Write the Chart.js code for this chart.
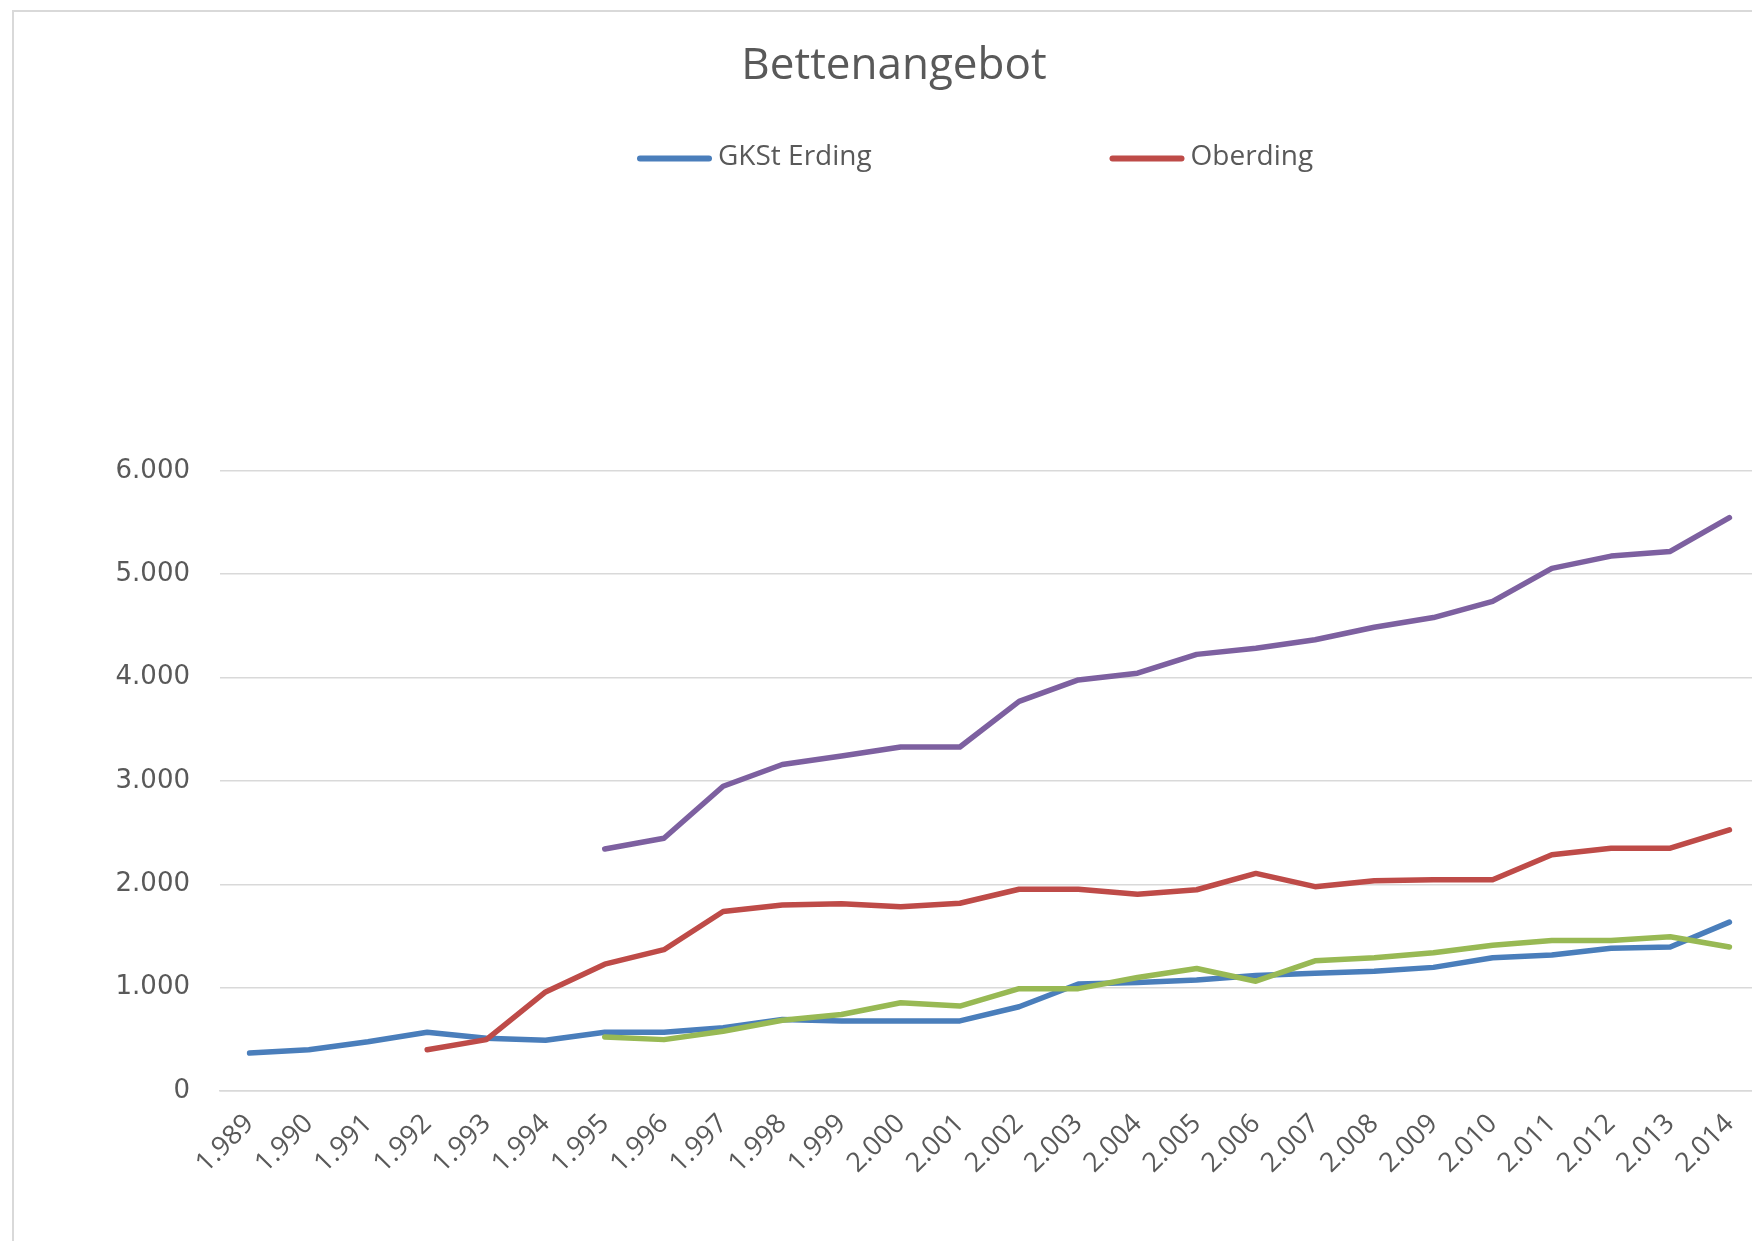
<!DOCTYPE html>
<html>
<head>
<meta charset="utf-8">
<script src="https://cdn.jsdelivr.net/npm/chart.js@4.4.1/dist/chart.umd.min.js"></script>
<style>
  html, body { margin: 0; padding: 0; background: #ffffff; overflow: hidden; width: 1752px; height: 1241px; }
  #frame { position: absolute; left: 12px; top: 10px; width: 1800px; height: 1300px;
           border-left: 2px solid #d9d9d9; border-top: 2px solid #d9d9d9; background: #ffffff; }
  #c { position: absolute; left: 0; top: 0; }
</style>
</head>
<body>
<div id="frame"><canvas id="c" width="1745" height="1229"></canvas></div>
<script>
// ---- data ----
const xLabels = ['1.989','1.990','1.991','1.992','1.993','1.994','1.995','1.996','1.997','1.998','1.999','2.000','2.001',
                 '2.002','2.003','2.004','2.005','2.006','2.007','2.008','2.009','2.010','2.011','2.012','2.013','2.014'];
const gkstErding = [367, 399, 477, 569, 510, 491, 569, 569, 611, 692, 678, 678, 678,
                    815, 1035, 1049, 1073, 1118, 1140, 1159, 1196, 1289, 1315, 1382, 1393, 1634];
const oberding   = [null, null, null, 399, 497, 958, 1227, 1367, 1737, 1799, 1812, 1783, 1816,
                    1952, 1952, 1904, 1947, 2105, 1977, 2033, 2044, 2044, 2286, 2349, 2349, 2527];
const series3    = [null, null, null, null, null, null, 523, 497, 578, 685, 740, 854, 822,
                    990, 990, 1098, 1185, 1062, 1259, 1289, 1337, 1411, 1456, 1456, 1493, 1393];
const series4    = [null, null, null, null, null, null, 2341, 2445, 2948, 3159, 3240, 3328, 3328,
                    3770, 3977, 4042, 4224, 4283, 4365, 4487, 4580, 4736, 5056, 5175, 5220, 5547];
const yTickValues = [0, 1000, 2000, 3000, 4000, 5000, 6000];
const yTickLabels = ['0', '1.000', '2.000', '3.000', '4.000', '5.000', '6.000'];
const seriesNames = ['GKSt Erding', 'Oberding', 'Datenreihe 3', 'Datenreihe 4'];
const legendShown = [0, 1];
const chartTitle = 'Bettenangebot';

// ---- styles ----
const colors = ['#4a7ebb', '#be4b48', '#98b954', '#7d60a0'];
const textColor = '#595959';
const gridColor = '#d9d9d9';

// Excel-like legend (only first row visible, fixed column width)
const excelLegend = {
  id: 'excelLegend',
  afterDraw(chart, args, opts) {
    const ctx = chart.ctx;
    ctx.save();
    opts.items.forEach((idx, k) => {
      const ds = chart.data.datasets[idx];
      const x0 = opts.x + k * opts.colWidth;
      ctx.strokeStyle = ds.borderColor;
      ctx.lineWidth = opts.lineWidth;
      ctx.lineCap = 'round';
      ctx.beginPath();
      ctx.moveTo(x0 + opts.lineWidth / 2, opts.y);
      ctx.lineTo(x0 + opts.lineLength - opts.lineWidth / 2, opts.y);
      ctx.stroke();
      ctx.fillStyle = opts.color;
      ctx.font = opts.font;
      ctx.textAlign = 'left';
      ctx.textBaseline = 'middle';
      ctx.fillText(ds.label, x0 + opts.textOffset, opts.textY);
    });
    ctx.restore();
  }
};

const datasets = [gkstErding, oberding, series3, series4].map((d, i) => ({
  label: seriesNames[i],
  data: d,
  borderColor: colors[i],
  backgroundColor: colors[i],
  borderWidth: 5.5,
  pointRadius: 0,
  pointHoverRadius: 0,
  tension: 0,
  fill: false,
  borderCapStyle: 'round',
  borderJoinStyle: 'round',
  order: 4 - i
}));

new Chart(document.getElementById('c'), {
  type: 'line',
  data: { labels: xLabels, datasets: datasets },
  plugins: [excelLegend],
  options: {
    responsive: false,
    animation: false,
    events: [],
    layout: { padding: { left: 15, right: 0, top: 0, bottom: 37 } },
    plugins: {
      legend: { display: false },
      tooltip: { enabled: false },
      title: {
        display: true,
        text: chartTitle,
        color: textColor,
        font: { family: "'Open Sans', sans-serif", size: 44, weight: 'normal' },
        padding: { top: 28, bottom: 378 }
      },
      excelLegend: {
        items: legendShown,
        x: 623,
        colWidth: 472.5,
        y: 146.5,
        textY: 145,
        lineLength: 75,
        lineWidth: 6,
        textOffset: 81,
        color: textColor,
        font: "28px 'Open Sans', sans-serif"
      }
    },
    scales: {
      x: {
        type: 'category',
        offset: true,
        grid: { display: false, drawTicks: false },
        border: { display: true, color: gridColor, width: 1.5 },
        ticks: {
          autoSkip: false,
          minRotation: 45,
          maxRotation: 45,
          padding: 17,
          color: textColor,
          font: { family: "'Open Sans', sans-serif", size: 27 }
        },
        afterFit: (s) => { s.height = 113; s.paddingLeft = 0; s.paddingRight = 0; }
      },
      y: {
        min: 0,
        max: 6000,
        grid: { color: gridColor, lineWidth: 1.5, drawTicks: false },
        border: { display: false },
        afterBuildTicks: (s) => { s.ticks = yTickValues.map(v => ({ value: v })); },
        ticks: {
          padding: 30,
          color: textColor,
          font: { family: "'DejaVu Sans', sans-serif", size: 26 },
          callback: (v) => yTickLabels[yTickValues.indexOf(v)]
        },
        afterFit: (s) => { s.width = 191; }
      }
    }
  }
});
</script>
</body>
</html>
